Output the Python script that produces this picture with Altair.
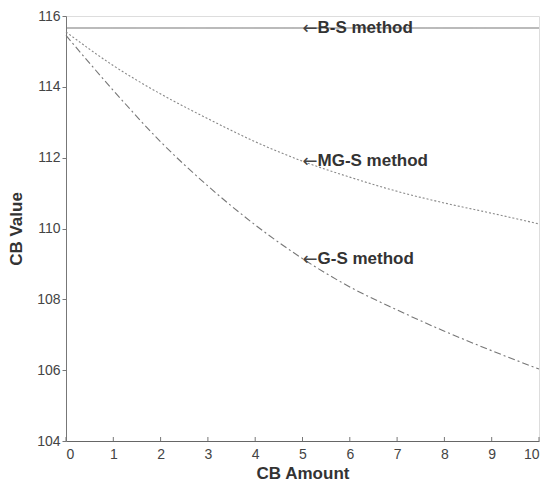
import altair as alt
import pandas as pd

x_vals = [0, 1, 2, 3, 4, 5, 6, 7, 8, 9, 10]
bs_vals = [115.66] * 11
mgs_vals = [115.55, 114.6, 113.8, 113.1, 112.45, 111.9, 111.45, 111.05, 110.72, 110.43, 110.13]
gs_vals = [115.45, 113.9, 112.45, 111.2, 110.1, 109.15, 108.35, 107.7, 107.1, 106.55, 106.03]

series_names = ["B-S", "MG-S", "G-S"]
label_texts = ["B-S method", "MG-S method", "G-S method"]
label_x = [5, 5, 5]
label_y = [115.66, 111.92, 109.13]
x_ticks = [0, 1, 2, 3, 4, 5, 6, 7, 8, 9, 10]
y_ticks = [104, 106, 108, 110, 112, 114, 116]

rows = []
for name, vals in zip(series_names, [bs_vals, mgs_vals, gs_vals]):
    for xv, yv in zip(x_vals, vals):
        rows.append({"x": xv, "y": yv, "series": name})
df = pd.DataFrame(rows)
lab = pd.DataFrame({"x": label_x, "y": label_y, "text": label_texts, "arrow": ["\u2190"] * 3})
ticks_df = pd.DataFrame({"x": x_ticks})

W, H = 473, 425
FONT = "Liberation Sans"

xscale = alt.Scale(domain=[0, 10], nice=False)
yscale = alt.Scale(domain=[104, 116], nice=False, zero=False)

xaxis = alt.Axis(values=x_ticks, title="CB Amount", ticks=False, grid=False,
                 labelFont=FONT, labelFontSize=14, labelColor="#444", labelPadding=6,
                 titleFont=FONT, titleFontSize=17, titleFontWeight="bold", titleColor="#333",
                 titlePadding=4, domainColor="#666")
yaxis = alt.Axis(values=y_ticks, title="CB Value", tickSize=4, tickColor="#777", grid=False,
                 labelFont=FONT, labelFontSize=14, labelColor="#444", labelPadding=2,
                 titleFont=FONT, titleFontSize=17, titleFontWeight="bold", titleColor="#333",
                 titleX=-41, domainColor="#777")

lines = alt.Chart(df).mark_line(strokeWidth=1.1, interpolate="monotone").encode(
    x=alt.X("x:Q", scale=xscale, axis=xaxis),
    y=alt.Y("y:Q", scale=yscale, axis=yaxis),
    strokeDash=alt.StrokeDash("series:N", sort=series_names,
                              scale=alt.Scale(domain=series_names, range=[[1, 0], [2, 2], [7, 3, 2, 3]]),
                              legend=None),
    color=alt.Color("series:N", sort=series_names,
                    scale=alt.Scale(domain=series_names, range=["#777777", "#888888", "#777777"]),
                    legend=None),
    detail="series:N",
)

xticks = alt.Chart(ticks_df).mark_rule(color="#777", strokeWidth=1).encode(
    x=alt.X("x:Q", scale=xscale),
    y=alt.value(H),
    y2=alt.value(H - 4),
)

arrows = alt.Chart(lab).mark_text(align="left", baseline="middle", font="DejaVu Sans", fontSize=18,
                                  color="#444", dy=1).encode(
    x=alt.X("x:Q", scale=xscale),
    y=alt.Y("y:Q", scale=yscale),
    text="arrow:N",
)

labels = alt.Chart(lab).mark_text(align="left", baseline="middle", font=FONT, fontSize=17,
                                  fontWeight="bold", color="#333", dx=15).encode(
    x=alt.X("x:Q", scale=xscale),
    y=alt.Y("y:Q", scale=yscale),
    text="text:N",
)

chart = alt.layer(lines, xticks, arrows, labels).properties(
    width=W, height=H,
    autosize=alt.AutoSizeParams(type="none"),
    padding={"left": 58, "top": 8, "right": 12, "bottom": 42},
).configure_view(stroke=None).configure(background="white")

chart.save("out.html", embed_options={"renderer": "svg", "actions": False})
